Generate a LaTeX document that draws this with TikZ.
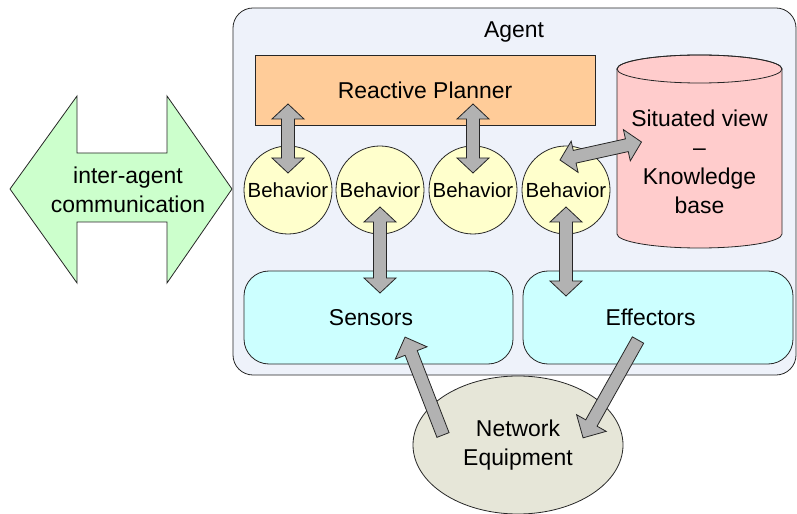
\documentclass[tikz,border=0pt]{standalone}
\usepackage{fontspec}
\setmainfont{Liberation Sans}
\usetikzlibrary{calc,shapes.geometric}

\definecolor{agentfill}{HTML}{EEF2FA}
\definecolor{plannerfill}{HTML}{FFCC99}
\definecolor{kbfill}{HTML}{FFCCCC}
\definecolor{behavfill}{HTML}{FFFFCC}
\definecolor{iofill}{HTML}{CCFFFF}
\definecolor{netfill}{HTML}{E6E6D8}
\definecolor{commfill}{HTML}{CCFFCC}
\definecolor{arrowfill}{HTML}{B2B2B2}
\definecolor{edge}{HTML}{262626}

\tikzset{
  outline/.style={draw=edge, line width=0.8bp},
  agentbox/.style={outline, fill=agentfill, rounded corners=20bp, inner sep=0pt},
  plannerbox/.style={outline, fill=plannerfill, inner sep=0pt,
    minimum width=340bp, minimum height=70bp},
  behav/.style={outline, fill=behavfill, circle, inner sep=0pt,
    minimum size=88bp, font=\fontsize{20.5}{24}\selectfont},
  iobox/.style={outline, fill=iofill, rounded corners=25bp, inner sep=0pt,
    minimum width=269bp, minimum height=93bp},
  iolabel/.style={label={[xshift=-7.5bp]center:#1}},
  netnode/.style={outline, fill=netfill, ellipse, inner sep=0pt,
    minimum width=210bp, minimum height=138bp, align=center},
  blockarrow/.style={outline, fill=arrowfill, line join=miter},
}

% double-headed block arrow between two named coordinates
\newcommand\dblarrow[2]{%
  \path[blockarrow] let \p1=($(#2)-(#1)$), \n1={atan2(\y1,\x1)},
      \n2={veclen(\x1,\y1)} in
    [shift={(#1)}, rotate=\n1]
    (0bp,0bp) -- (15bp,16bp) -- (15bp,6.5bp) -- ({\n2*1pt-15bp},6.5bp)
    -- ({\n2*1pt-15bp},16bp) -- ({\n2*1pt},0bp) -- ({\n2*1pt-15bp},-16bp)
    -- ({\n2*1pt-15bp},-6.5bp) -- (15bp,-6.5bp) -- (15bp,-16bp) -- cycle;}

% single-headed block arrow from #1 to #2
\newcommand\onearrow[2]{%
  \path[blockarrow] let \p1=($(#2)-(#1)$), \n1={atan2(\y1,\x1)},
      \n2={veclen(\x1,\y1)} in
    [shift={(#1)}, rotate=\n1]
    (0bp,6.5bp) -- ({\n2*1pt-17bp},6.5bp) -- ({\n2*1pt-17bp},17bp)
    -- ({\n2*1pt},0bp) -- ({\n2*1pt-17bp},-17bp) -- ({\n2*1pt-17bp},-6.5bp)
    -- (0bp,-6.5bp) -- cycle;}

\begin{document}
\begin{tikzpicture}[x=1bp, y=-1bp, font=\fontsize{23}{29}\selectfont]
\useasboundingbox (0,0) rectangle (797,514);

% inter-agent communication arrow
\path[outline, fill=commfill, line join=miter]
  (10,189) -- (77,96) -- (77,153) -- (167,153) -- (167,96) -- (232,189)
  -- (167,283) -- (167,222) -- (77,222) -- (77,283) -- cycle;
\node[align=center] (comm) at (128,190) {inter-agent\\communication};

% agent container
\node[agentbox, minimum width=563bp, minimum height=367bp] (agent) at (514.5,191.5) {};
\node (agentlbl) at (514,32) {Agent};

% reactive planner
\node[plannerbox] (planner) at (425,90) {Reactive Planner};

% knowledge base cylinder
\path[outline, fill=kbfill]
  (617,69) -- (617,234) arc[start angle=180, end angle=360, x radius=82.5bp, y radius=14bp]
  -- (782,69) arc[start angle=0, end angle=180, x radius=82.5bp, y radius=14bp] -- cycle;
\draw[outline] (699.5,69) ellipse[x radius=82.5bp, y radius=14bp];
\node[align=center] (kb) at (699.5,162) {Situated view\\–\\Knowledge\\base};

% behaviors
\node[behav] (b1) at (288,190) {Behavior};
\node[behav] (b2) at (380,190) {Behavior};
\node[behav] (b3) at (473,190) {Behavior};
\node[behav] (b4) at (566,190) {Behavior};

% sensors and effectors
\node[iobox, iolabel=Sensors] (sensors) at (378.5,317.5) {};
\node[iobox, iolabel=Effectors, minimum width=270bp] (effectors) at (658,317.5) {};

% network equipment
\node[netnode] (net) at (518,445) {Network\\Equipment};

% arrow end points
\coordinate (a1p) at ($(b1)+(0,-86)$);
\coordinate (a1b) at ($(b1)+(0,-17)$);
\coordinate (a2b) at ($(b2)+(0,17)$);
\coordinate (a2s) at ($(b2)+(0,103)$);
\coordinate (a3p) at ($(b3)+(0,-86)$);
\coordinate (a3b) at ($(b3)+(0,-17)$);
\coordinate (a4b) at ($(b4)+(-6,-30)$);
\coordinate (a4k) at ($(kb)+(-58,-20)$);
\coordinate (a5b) at ($(b4)+(0,17)$);
\coordinate (a5e) at ($(b4)+(0,106)$);
\coordinate (a6n) at ($(net)+(-75,-10)$);
\coordinate (a6s) at ($(sensors)+(26.5,19.5)$);
\coordinate (a7e) at ($(effectors)+(-20,22.5)$);
\coordinate (a7n) at ($(net)+(65,-7)$);

\dblarrow{a1p}{a1b}
\dblarrow{a2b}{a2s}
\dblarrow{a3p}{a3b}
\dblarrow{a4b}{a4k}
\dblarrow{a5b}{a5e}
\onearrow{a6n}{a6s}
\onearrow{a7e}{a7n}
\end{tikzpicture}
\end{document}
